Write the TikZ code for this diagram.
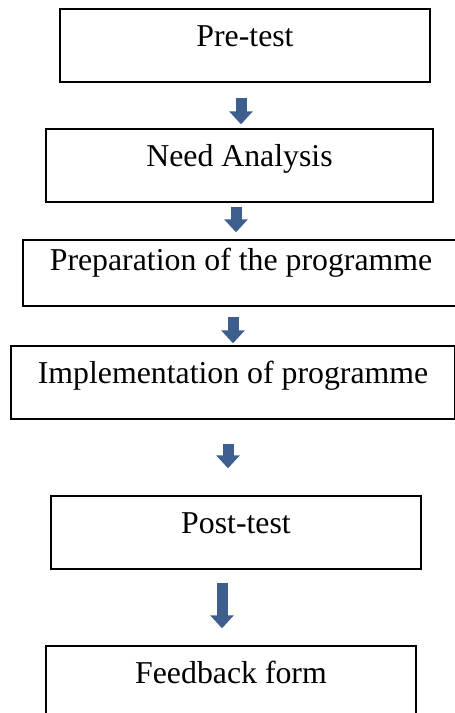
\documentclass[tikz,border=0pt]{standalone}
\usepackage{fontspec}
\setmainfont{Liberation Serif}
\usetikzlibrary{arrows.meta}
\definecolor{arrowblue}{HTML}{3E5F8E}
\begin{document}
\begin{tikzpicture}[x=1pt,y=-1pt,line join=miter,
		stage/.style={draw,line width=1.4pt,inner sep=0pt,minimum height=73pt,
			text height=22pt,text depth=20pt,font=\fontsize{31.8}{35}\selectfont},
		flow/.style={arrowblue,line width=11pt,-{Triangle[width=23pt,length=13pt]}}]
	\useasboundingbox (0,0) rectangle (455,713);
	% boxes
	\node[stage,minimum width=370pt] (pre) at (245,45.5) {Pre-test};
	\node[stage,minimum width=387pt] (need) at (239.5,165.5) {Need Analysis};
	\node[stage,minimum width=436pt,minimum height=66pt,text depth=28pt] (prep) at (241,273) {Preparation of the programme};
	\node[stage,minimum width=444pt] (impl) at (233,382.5) {Implementation of programme};
	\node[stage,minimum width=370pt] (post) at (236,532.5) {Post-test};
	\node[stage,minimum width=370pt] (feed) at (231,682.5) {Feedback form};
	% arrows
	\draw[flow] ([shift={(-4,15)}]pre.south) -- ([shift={(1.5,-4)}]need.north);
	\draw[flow] ([shift={(-3.5,4)}]need.south) -- ([shift={(-5,-7)}]prep.north);
	\draw[flow] ([shift={(-8,10)}]prep.south) -- ([shift={(0,-2)}]impl.north);
	\draw[flow] ([shift={(-5,24)}]impl.south) -- ([shift={(-8,-27)}]post.north);
	\draw[flow] ([shift={(-14,13)}]post.south) -- ([shift={(-9,-17)}]feed.north);
\end{tikzpicture}
\end{document}
